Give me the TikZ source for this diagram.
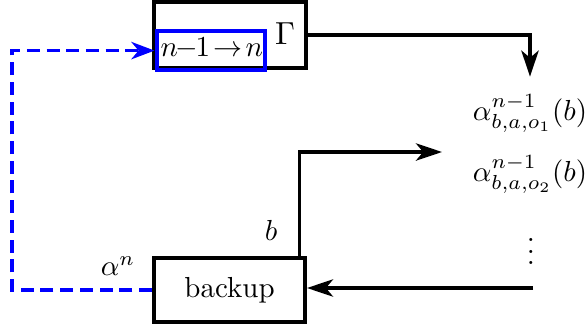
\documentclass[tikz,border=0pt]{standalone}
\usetikzlibrary{arrows.meta}
\begin{document}
\begin{tikzpicture}[x=0.345pt,y=-0.345pt,
  boxline/.style={draw, line width=1.5pt},
  conn/.style={line width=1.1pt, -{Stealth[length=9pt,width=6pt,inset=2.5pt]}},
  feedback/.style={draw=blue, line width=1.1pt, dash pattern=on 4.5pt off 2.3pt,
    -{Stealth[length=8pt,width=6pt,inset=2.5pt]}}]
  \useasboundingbox (0,0) rectangle (587,331);
  % operator box with the index shift inside
  \node[boxline, minimum width=52.4pt, minimum height=22.8pt, inner sep=0pt] (gam) at (230,35) {};
  \node[scale=1.1] (gamlbl) at (285,34) {$\Gamma$};
  \node[draw=blue, line width=1.5pt, minimum width=37.3pt, minimum height=13.4pt,
        inner sep=0pt, anchor=north west] (nbox) at (154.5,29) {};
  \node[anchor=west, inner sep=0pt] (ntxt) at (160,48) {$n\mkern-1.5mu{-}\mkern-1.5mu1\mkern2mu{\to}\mkern2mu n$};
  % backup box
  \node[boxline, minimum width=52pt, minimum height=22pt, inner sep=0pt] (bk) at (229.5,290) {backup};
  % vectors from the previous stage
  \node[anchor=north, inner sep=0pt] (a1) at (530,94) {$\alpha^{n-1}_{b,a,o_1}(b)$};
  \node[anchor=north, inner sep=0pt] (a2) at (530,155) {$\alpha^{n-1}_{b,a,o_2}(b)$};
  \node[inner sep=0pt] (dots) at (531,243) {$\vdots$};
  % labels
  \node (blbl) at (271,230) {$b$};
  \node (anlbl) at (118,266) {$\alpha^n$};
  % helper points
  \coordinate (btip) at (442,152);
  \coordinate (bin) at (533,288);
  \coordinate (lft) at (12,0);
  % connectors
  \draw[conn, shorten >=6pt] (gam.east) -| (a1.north);
  \draw[conn] (bk.north -| blbl.east) ++(12,0) coordinate (bup) |- (btip);
  \draw[conn] (bin) -- (bin -| bk.east);
  \draw[feedback] (bk.west) -| (nbox.west -| lft) -- (nbox.west);
\end{tikzpicture}
\end{document}
